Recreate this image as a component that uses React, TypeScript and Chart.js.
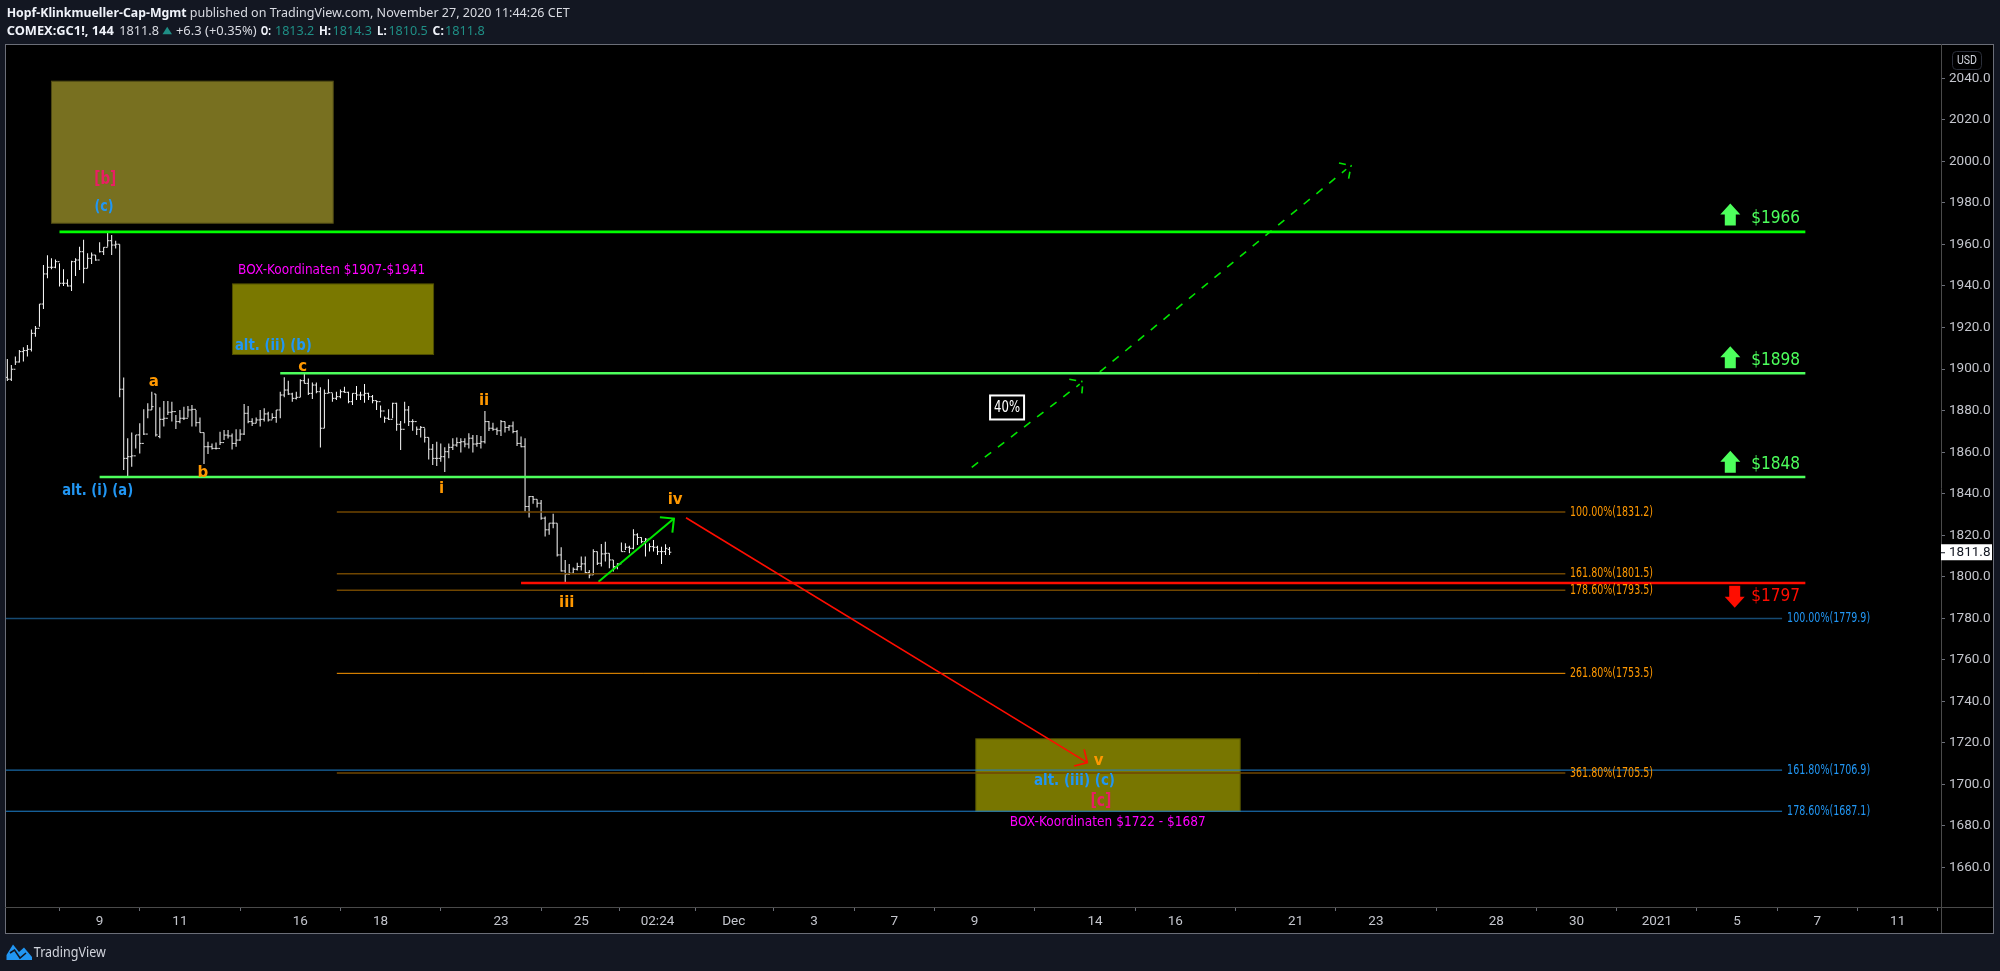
import React, { useEffect, useRef } from "react";
import { Chart, registerables } from "chart.js";

Chart.register(...registerables);

// ---------- data: one 144-minute bar per entry ----------
const barHigh = [
  1904.9,1902.0,1906.0,1909.2,1910.5,1911.6,1919.1,1920.7,1931.3,1950.1,
  1954.8,1953.3,1952.8,1950.9,1948.0,1943.2,1952.2,1953.3,1958.9,1962.2,
  1955.7,1956.1,1954.9,1961.0,1958.6,1966.2,1964.6,1961.8,1960.1,1895.9,
  1866.7,1869.4,1868.3,1873.9,1880.6,1883.5,1889.1,1888.0,1881.6,1884.6,
  1884.6,1884.3,1877.9,1880.3,1881.9,1882.2,1882.7,1880.3,1876.7,1869.4,
  1865.0,1864.2,1864.6,1869.8,1870.6,1870.6,1869.0,1871.0,1871.0,1883.2,
  1882.2,1876.3,1876.7,1880.3,1881.1,1879.5,1878.7,1880.3,1889.1,1896.0,
  1894.4,1888.6,1889.1,1895.1,1898.1,1895.5,1893.5,1893.5,1891.2,1890.2,
  1895.1,1888.3,1889.1,1890.2,1891.5,1889.1,1888.3,1891.9,1889.1,1892.8,
  1888.6,1887.5,1884.8,1882.4,1877.1,1880.6,1883.8,1883.8,1875.0,1884.3,
  1882.2,1875.8,1872.3,1872.6,1871.5,1867.1,1863.9,1865.0,1864.2,1862.3,
  1864.2,1866.7,1867.0,1866.7,1866.7,1869.1,1868.3,1868.3,1867.8,1879.8,
  1875.0,1874.2,1871.9,1875.5,1874.7,1873.1,1874.7,1870.7,1867.5,1866.7,
  1838.9,1838.9,1837.3,1837.0,1829.0,1825.8,1830.3,1825.8,1814.2,1808.1,
  1806.2,1804.4,1806.8,1809.7,1809.7,1803.3,1813.3,1812.1,1815.8,1816.8,
  1811.3,1808.1,1806.5,1816.5,1816.1,1814.9,1822.9,1821.0,1819.0,1818.6,
  1816.1,1817.7,1814.9,1814.5,1815.7,1814.3,
];
const barLow = [
  1894.3,1894.3,1902.0,1903.1,1903.6,1906.0,1908.4,1915.6,1920.4,1928.9,
  1943.7,1948.0,1948.5,1939.7,1940.0,1939.7,1937.6,1944.8,1947.7,1941.3,
  1948.5,1950.6,1952.2,1956.1,1954.9,1958.9,1954.9,1958.1,1886.4,1851.4,
  1848.2,1853.0,1861.8,1859.4,1868.3,1876.3,1880.3,1867.5,1866.7,1872.3,
  1877.9,1874.7,1871.1,1873.9,1875.5,1876.7,1872.3,1872.3,1869.4,1854.3,
  1859.1,1861.3,1861.3,1863.4,1865.8,1866.6,1861.3,1862.6,1865.5,1868.2,
  1873.9,1872.6,1873.9,1872.3,1874.7,1874.7,1875.8,1874.2,1876.3,1886.4,
  1887.5,1884.3,1885.4,1886.4,1893.1,1887.5,1885.6,1888.3,1862.2,1871.5,
  1888.3,1884.3,1885.1,1885.9,1888.6,1883.5,1882.7,1885.1,1885.1,1883.8,
  1885.1,1883.5,1880.3,1876.6,1874.2,1875.5,1876.3,1870.3,1861.0,1873.9,
  1872.6,1870.3,1868.3,1867.1,1864.6,1856.5,1853.8,1853.3,1855.4,1850.4,
  1857.0,1861.0,1862.6,1859.8,1862.3,1861.8,1859.8,1862.6,1861.8,1864.2,
  1870.2,1870.3,1868.3,1867.8,1869.4,1870.3,1869.1,1863.0,1862.3,1831.4,
  1828.5,1835.1,1833.3,1827.4,1819.4,1820.2,1823.4,1809.7,1802.5,1797.4,
  1800.9,1801.7,1803.0,1803.0,1801.7,1799.3,1800.9,1805.7,1804.9,1807.3,
  1804.1,1802.5,1803.6,1812.1,1812.9,1811.3,1813.3,1815.3,1816.1,1809.7,
  1812.1,1812.1,1810.5,1806.2,1810.5,1810.5,
];
const barOpen = [
  1896.0,1895.1,1899.9,1903.4,1908.4,1908.9,1909.5,1917.2,1919.6,1931.3,
  1945.8,1949.0,1949.0,1951.7,1941.3,1941.3,1940.0,1951.7,1952.5,1956.5,
  1948.5,1953.3,1954.9,1952.5,1956.5,1958.6,1961.8,1959.7,1960.1,1890.3,
  1857.0,1857.8,1858.2,1868.3,1864.2,1868.7,1880.3,1888.0,1867.5,1875.8,
  1876.3,1879.2,1879.5,1874.7,1876.3,1876.3,1880.3,1880.6,1874.2,1869.4,
  1862.6,1862.6,1861.8,1861.8,1864.6,1868.2,1867.8,1864.2,1865.8,1868.7,
  1878.7,1874.7,1873.9,1875.5,1875.8,1878.4,1875.5,1876.7,1880.3,1887.5,
  1889.9,1888.0,1885.9,1886.4,1894.4,1893.1,1888.3,1892.3,1889.1,1871.5,
  1888.3,1888.6,1885.9,1886.7,1889.1,1888.8,1884.3,1888.3,1887.5,1887.5,
  1888.3,1886.7,1884.8,1884.3,1879.8,1876.3,1875.8,1883.5,1873.4,1871.0,
  1880.3,1874.7,1874.7,1871.0,1871.9,1867.1,1861.4,1857.0,1857.0,1857.8,
  1860.2,1862.3,1863.4,1864.6,1865.0,1863.9,1866.7,1863.9,1864.2,1865.0,
  1874.7,1871.5,1871.0,1870.3,1874.7,1871.9,1872.6,1869.9,1864.2,1862.6,
  1833.8,1838.6,1837.3,1835.4,1828.2,1822.6,1825.8,1825.8,1810.5,1802.8,
  1801.2,1801.7,1803.6,1804.9,1806.2,1802.0,1800.9,1812.1,1806.5,1811.0,
  1811.3,1808.1,1804.9,1806.2,1812.1,1814.2,1813.7,1820.2,1818.9,1816.9,
  1818.1,1814.5,1814.2,1812.1,1812.1,1813.2,
];
const barClose = [
  1895.1,1899.9,1903.4,1908.4,1908.9,1909.5,1917.2,1919.6,1931.3,1945.8,
  1949.0,1949.0,1951.7,1941.3,1941.3,1940.0,1951.7,1952.5,1956.5,1948.5,
  1953.3,1954.9,1952.5,1956.5,1958.6,1961.8,1959.7,1960.1,1890.3,1857.0,
  1857.8,1858.2,1868.3,1864.2,1868.7,1880.3,1881.9,1868.3,1875.8,1876.3,
  1879.2,1879.5,1874.7,1876.3,1876.3,1880.3,1880.6,1874.2,1869.4,1862.6,
  1862.6,1861.8,1861.8,1864.6,1868.2,1867.8,1864.2,1865.8,1868.7,1878.7,
  1874.7,1873.9,1875.5,1875.8,1878.4,1875.5,1876.7,1880.3,1887.5,1889.9,
  1888.0,1885.9,1886.4,1894.4,1893.1,1888.3,1892.3,1889.1,1871.5,1888.3,
  1888.6,1885.9,1886.7,1889.1,1888.8,1884.3,1888.3,1887.5,1887.5,1888.3,
  1886.7,1884.8,1884.3,1879.8,1876.3,1875.8,1883.5,1873.4,1871.0,1880.3,
  1874.7,1874.7,1871.0,1871.9,1867.1,1861.4,1857.0,1857.0,1857.8,1860.2,
  1862.3,1863.4,1864.6,1865.0,1863.9,1866.7,1863.9,1864.2,1865.0,1874.7,
  1871.5,1871.0,1870.3,1874.7,1871.9,1872.6,1869.9,1864.2,1862.6,1833.8,
  1838.6,1837.3,1835.4,1828.2,1822.6,1825.8,1825.8,1810.5,1802.8,1801.2,
  1801.7,1803.6,1804.9,1806.2,1802.0,1800.9,1812.1,1806.5,1811.0,1811.3,
  1808.1,1804.9,1806.2,1812.1,1814.2,1813.7,1820.2,1818.9,1816.9,1818.1,
  1814.5,1814.2,1812.1,1812.1,1813.7,1811.8,
];

const timeTickBars = [23, 43, 73, 93, 123, 143, 162, 181, 201, 221, 241, 271, 291, 321, 341, 371, 391, 411, 431, 451, 471];
const timeTickLabels = ["9", "11", "16", "18", "23", "25", "02:24", "Dec", "3", "7", "9", "14", "16", "21", "23", "28", "30", "2021", "5", "7", "11"];
const priceTicks = [1660, 1680, 1700, 1720, 1740, 1760, 1780, 1800, 1820, 1840, 1860, 1880, 1900, 1920, 1940, 1960, 1980, 2000, 2020, 2040];
const lastPrice = 1811.8;

// levels: price, first bar, last bar
const levelPrices = [1966, 1898, 1848, 1797];
const levelStartBars = [13, 68, 23, 128];
const levelEndBar = 448;
const fibOrangePrices = [1831.2, 1801.5, 1793.5, 1753.5, 1705.5];
const fibOrangeLabels = ["100.00%(1831.2)", "161.80%(1801.5)", "178.60%(1793.5)", "261.80%(1753.5)", "361.80%(1705.5)"];
const fibBluePrices = [1779.9, 1706.9, 1687.1];
const fibBlueLabels = ["100.00%(1779.9)", "161.80%(1706.9)", "178.60%(1687.1)"];

// ---------- page layout and styles ----------
const AREA = { left: 6, right: 1941, top: 44, bottom: 907 };
const XMIN = -0.33;
const XMAX = 481.8;
const YMIN = 1641;
const YMAX = 2056.5;
const PAGE = "#131722";
const ORANGE = "#ff9800";
const BLUE = "#2196f3";
const CRIMSON = "#e91e63";
const MAGENTA = "#ff00ff";
const LIME = "#4dff5c";
const DEJA = '"DejaVu Sans"';
const BODY = '"Noto Sans"';
const AXISFONT = '"Liberation Sans Narrow", Roboto';

type Pt = { x: number; y: number };
const seg = (points: Pt[], color: string, width: number, dash?: number[]) => ({
  type: "line" as const,
  data: points,
  borderColor: color,
  borderWidth: width,
  borderDash: dash || [],
  pointRadius: 0,
  tension: 0,
  fill: false,
  borderCapStyle: "butt",
});

const levelColors = ["#00ff00", LIME, LIME, "#ff0d00"];
const levelWidths = [2.7, 2.4, 2.4, 2.7];
const orangeLineColors = ["#704600", "#704600", "#704600", ORANGE, "#704600"];
const blueLineColors = ["#164a72", "#1f82cf", "#1f82cf"];

const boxes = [
  { bars: [11, 81.2], prices: [2038.6, 1970.2], fill: "#787020", edge: "#4f4a14" },
  { bars: [56.1, 106.2], prices: [1941, 1907], fill: "#7a7800", edge: "#4f4e00" },
  { bars: [241.3, 307.2], prices: [1722, 1687], fill: "rgba(124,122,0,0.97)", edge: "#4f4e00" },
];

const boldBlue = `bold 16px ${DEJA}`;
const letter = `bold 15px ${DEJA}`;
const priceFont = `18px ${DEJA}`;
const waveFont = `bold 17px ${DEJA}`;
const notes = [
  { t: "[b]", bar: 24.4, p: 1991.0, c: CRIMSON, f: waveFont, w: 22 },
  { t: "(c)", bar: 24.1, p: 1978.0, c: BLUE, f: `bold 16px ${DEJA}`, w: 19 },
  { t: "BOX-Koordinaten $1907-$1941", bar: 80.8, p: 1947.4, c: MAGENTA, f: `14px ${DEJA}`, w: 187 },
  { t: "alt. (ii) (b)", bar: 66.3, p: 1911.1, c: BLUE, f: boldBlue, w: 77 },
  { t: "a", bar: 36.5, p: 1893.9, c: ORANGE, f: letter },
  { t: "b", bar: 48.7, p: 1850.0, c: ORANGE, f: letter },
  { t: "c", bar: 73.6, p: 1901.1, c: ORANGE, f: letter },
  { t: "alt. (i) (a)", bar: 22.5, p: 1841.4, c: BLUE, f: boldBlue, w: 71 },
  { t: "i", bar: 108.2, p: 1842.3, c: ORANGE, f: letter },
  { t: "ii", bar: 118.8, p: 1884.6, c: ORANGE, f: letter },
  { t: "iii", bar: 139.4, p: 1787.2, c: ORANGE, f: letter },
  { t: "iv", bar: 166.4, p: 1837.0, c: ORANGE, f: letter },
  { t: "v", bar: 271.9, p: 1711.4, c: ORANGE, f: letter },
  { t: "alt. (iii) (c)", bar: 265.9, p: 1701.7, c: BLUE, f: boldBlue, w: 81 },
  { t: "[c]", bar: 272.5, p: 1691.9, c: CRIMSON, f: waveFont, w: 21 },
  { t: "BOX-Koordinaten $1722 - $1687", bar: 274.2, p: 1681.8, c: MAGENTA, f: `14px ${DEJA}`, w: 196 },
  { t: "$1966", bar: 440.6, p: 1972.6, c: LIME, f: priceFont, w: 49 },
  { t: "$1898", bar: 440.6, p: 1904.4, c: LIME, f: priceFont, w: 49 },
  { t: "$1848", bar: 440.6, p: 1854.3, c: LIME, f: priceFont, w: 49 },
  { t: "$1797", bar: 440.6, p: 1790.4, c: "#ff0d00", f: priceFont, w: 49 },
];

const fibOrangeLabelBar = 399.7;
const fibBlueLabelBar = 453.8;
const upMarkers = [
  { bar: 429.3, p: 1974.4 },
  { bar: 429.3, p: 1905.7 },
  { bar: 429.3, p: 1855.4 },
];
const downMarkers = [{ bar: 430.4, p: 1790.4 }];
const tagBar = 249.1;
const tagPrice = 1881.5;

const overlay = {
  id: "overlay",
  beforeDraw(chart: any) {
    const { ctx } = chart;
    ctx.save();
    ctx.fillStyle = PAGE;
    ctx.fillRect(0, 0, 2000, 971);
    ctx.fillStyle = "#000000";
    ctx.fillRect(5, 44, 1988, 889);
    ctx.restore();
  },
  beforeDatasetsDraw(chart: any) {
    const { ctx, scales } = chart;
    const { x, y } = scales;
    ctx.save();
    for (const b of boxes) {
      const l = x.getPixelForValue(b.bars[0]);
      const r = x.getPixelForValue(b.bars[1]);
      const t = y.getPixelForValue(b.prices[0]);
      const bt = y.getPixelForValue(b.prices[1]);
      ctx.fillStyle = b.fill;
      ctx.fillRect(l, t, r - l, bt - t);
      ctx.strokeStyle = b.edge;
      ctx.lineWidth = 1;
      ctx.strokeRect(l, t, r - l, bt - t);
    }
    ctx.restore();
  },
  afterDatasetsDraw(chart: any) {
    const { ctx, scales } = chart;
    const { x, y } = scales;
    ctx.save();
    ctx.textAlign = "center";
    ctx.textBaseline = "middle";
    for (const n of notes as any[]) {
      ctx.font = n.f;
      ctx.fillStyle = n.c;
      const px = x.getPixelForValue(n.bar);
      const py = y.getPixelForValue(n.p);
      if (n.w) ctx.fillText(n.t, px, py, n.w);
      else ctx.fillText(n.t, px, py);
    }
    // fibonacci labels
    ctx.font = `14px ${DEJA}`;
    ctx.fillStyle = "#ff9800";
    fibOrangeLabels.forEach((t, i) => {
      ctx.fillText(t, x.getPixelForValue(fibOrangeLabelBar), y.getPixelForValue(fibOrangePrices[i]), 83);
    });
    ctx.fillStyle = "#2196f3";
    fibBlueLabels.forEach((t, i) => {
      ctx.fillText(t, x.getPixelForValue(fibBlueLabelBar), y.getPixelForValue(fibBluePrices[i]), 83);
    });
    // probability tag
    const tx = x.getPixelForValue(tagBar);
    const ty = y.getPixelForValue(tagPrice);
    ctx.fillStyle = "#000";
    ctx.fillRect(tx - 17, ty - 12, 34, 24);
    ctx.strokeStyle = "#ffffff";
    ctx.lineWidth = 2;
    ctx.strokeRect(tx - 17, ty - 12, 34, 24);
    ctx.fillStyle = "#ffffff";
    ctx.font = `16px ${DEJA}`;
    ctx.fillText("40%", tx, ty, 26);
    // level arrows
    const glyph = (cx: number, cy: number, dir: number, color: string) => {
      ctx.fillStyle = color;
      ctx.beginPath();
      ctx.moveTo(cx, cy - dir * 11);
      ctx.lineTo(cx + 10, cy);
      ctx.lineTo(cx + 5.5, cy);
      ctx.lineTo(cx + 5.5, cy + dir * 11);
      ctx.lineTo(cx - 5.5, cy + dir * 11);
      ctx.lineTo(cx - 5.5, cy);
      ctx.lineTo(cx - 10, cy);
      ctx.closePath();
      ctx.fill();
    };
    for (const m of upMarkers) glyph(x.getPixelForValue(m.bar), y.getPixelForValue(m.p), 1, LIME);
    for (const m of downMarkers) glyph(x.getPixelForValue(m.bar), y.getPixelForValue(m.p), -1, "#ff0d00");
    ctx.restore();
  },
  afterDraw(chart: any) {
    const { ctx, scales } = chart;
    const { y } = scales;
    ctx.save();
    // frame and axis rules
    ctx.strokeStyle = "#6b6e78";
    ctx.lineWidth = 1;
    ctx.strokeRect(5.5, 44.5, 1988, 889);
    ctx.strokeStyle = "#4a4a4a";
    ctx.beginPath();
    ctx.moveTo(1941.5, 44);
    ctx.lineTo(1941.5, 933);
    ctx.moveTo(5, 907.5);
    ctx.lineTo(1993, 907.5);
    ctx.stroke();
    // last price tag
    const py = y.getPixelForValue(lastPrice);
    ctx.fillStyle = "#ffffff";
    ctx.fillRect(1941, py - 8, 51, 16);
    ctx.fillStyle = "#131722";
    ctx.font = `13.5px ${AXISFONT}`;
    ctx.textAlign = "left";
    ctx.textBaseline = "middle";
    ctx.fillText(lastPrice.toFixed(1), 1949, py + 0.5);
    ctx.fillRect(1941, py, 4, 1);
    // currency badge
    ctx.strokeStyle = "#2a2e39";
    ctx.beginPath();
    ctx.roundRect(1952.5, 51.5, 29, 18, 4);
    ctx.stroke();
    ctx.fillStyle = "#d1d4dc";
    ctx.textAlign = "center";
    ctx.fillText("USD", 1967, 60.5, 20);
    // header
    ctx.textAlign = "left";
    const put = (t: string, l: number, r: number, yy: number, color: string, bold: boolean) => {
      ctx.font = `${bold ? "bold " : ""}13px ${BODY}`;
      ctx.fillStyle = color;
      ctx.fillText(t, l, yy, r - l);
    };
    const TXT = "#d9dbe2";
    const TEAL = "#1f8f86";
    put("Hopf-Klinkmueller-Cap-Mgmt", 6.7, 186.6, 13.5, "#f0f3fa", true);
    put("published on TradingView.com, November 27, 2020 11:44:26 CET", 189.7, 569.6, 13.5, TXT, false);
    put("COMEX:GC1!, 144", 6.7, 113.8, 31, "#f0f3fa", true);
    put("1811.8", 119.2, 159, 31, TXT, false);
    ctx.fillStyle = TEAL;
    ctx.beginPath();
    ctx.moveTo(167.2, 26.7);
    ctx.lineTo(172, 34.3);
    ctx.lineTo(162.5, 34.3);
    ctx.closePath();
    ctx.fill();
    put("+6.3 (+0.35%)", 175.9, 256.7, 31, TXT, false);
    put("O:", 260.7, 271, 31, "#f0f3fa", true);
    put("1813.2", 275, 314.3, 31, TEAL, false);
    put("H:", 319, 331, 31, "#f0f3fa", true);
    put("1814.3", 332.6, 371.9, 31, TEAL, false);
    put("L:", 377, 386.6, 31, "#f0f3fa", true);
    put("1810.5", 388.4, 427.7, 31, TEAL, false);
    put("C:", 432.6, 443.8, 31, "#f0f3fa", true);
    put("1811.8", 445, 484.8, 31, TEAL, false);
    // brand mark
    ctx.fillStyle = "#2196f3";
    ctx.beginPath();
    ctx.moveTo(6.5, 960);
    ctx.lineTo(6.5, 955);
    ctx.lineTo(13, 944.5);
    ctx.lineTo(19, 952);
    ctx.lineTo(24, 947.5);
    ctx.lineTo(32, 957);
    ctx.lineTo(32, 960);
    ctx.closePath();
    ctx.fill();
    ctx.strokeStyle = PAGE;
    ctx.lineWidth = 1.6;
    ctx.beginPath();
    ctx.moveTo(10, 953);
    ctx.lineTo(14.5, 950);
    ctx.lineTo(20, 958);
    ctx.lineTo(26, 953);
    ctx.stroke();
    ctx.font = `14px ${BODY}`;
    ctx.fillStyle = "#d1d4dc";
    ctx.fillText("TradingView", 33.8, 952.7, 72);
    ctx.restore();
  },
};

export default function App() {
  const ref = useRef<HTMLCanvasElement | null>(null);

  useEffect(() => {
    if (!ref.current) return;
    const indices = barHigh.map((_, i) => i);
    const datasets: any[] = [
      // levels
      ...levelPrices.map((p, i) =>
        seg([{ x: levelStartBars[i], y: p }, { x: levelEndBar, y: p }], levelColors[i], levelWidths[i])
      ),
      // drawn arrows
      seg([{ x: 169.1, y: 1828.4 }, { x: 269.1, y: 1710.5 }], "#ff0d00", 1.6),
      seg([{ x: 268.3, y: 1716.9 }, { x: 269.1, y: 1710.5 }, { x: 265.8, y: 1708.9 }], "#ff0d00", 1.6),
      seg([{ x: 147.3, y: 1797.6 }, { x: 166.1, y: 1828 }], "#00e600", 2),
      seg([{ x: 162.6, y: 1828.6 }, { x: 166.1, y: 1828 }, { x: 165.7, y: 1821.2 }], "#00e600", 2),
      seg([{ x: 240.3, y: 1852.7 }, { x: 267.2, y: 1892.7 }], "#00e600", 1.6, [8, 8.5]),
      seg([{ x: 264.6, y: 1895.1 }, { x: 268, y: 1893.9 }, { x: 267.7, y: 1887.5 }], "#00e600", 1.6, [7, 5, 1.5, 5, 7]),
      seg([{ x: 272.2, y: 1898.6 }, { x: 333.6, y: 1996.2 }], "#00e600", 1.6, [8, 8.5]),
      seg([{ x: 331.8, y: 1999.2 }, { x: 334.8, y: 1997.9 }, { x: 334.1, y: 1990.6 }], "#00e600", 1.6, [7, 5, 1.5, 5, 7]),
      // fibonacci lines
      ...fibOrangePrices.map((p, i) =>
        seg([{ x: 82.1, y: p }, { x: 388.2, y: p }], orangeLineColors[i], i === 3 ? 1 : 1.5)
      ),
      ...fibBluePrices.map((p, i) =>
        seg([{ x: XMIN, y: p }, { x: 442.2, y: p }], blueLineColors[i], i === 0 ? 1.5 : 1)
      ),
      // OHLC marks
      {
        type: "line",
        showLine: false,
        data: indices.map((i) => ({ x: i, y: barOpen[i] })),
        pointStyle: "dash",
        pointRadius: 1.8,
        pointRotation: 180,
        pointBorderWidth: 1,
        pointBorderColor: "#e4e4e4",
      },
      {
        type: "line",
        showLine: false,
        data: indices.map((i) => ({ x: i, y: barClose[i] })),
        pointStyle: "dash",
        pointRadius: 1.8,
        pointBorderWidth: 1,
        pointBorderColor: "#e4e4e4",
      },
      {
        type: "bar",
        data: indices.map((i) => ({ x: i, y: [barLow[i], barHigh[i]] })),
        backgroundColor: "#ffffff",
        barThickness: 1,
        borderWidth: 0,
        inflateAmount: 0,
      },
    ];

    const chart = new Chart(ref.current, {
      type: "bar",
      data: { datasets },
      plugins: [overlay],
      options: {
        animation: false,
        responsive: false,
        devicePixelRatio: 1,
        events: [],
        layout: { padding: { left: AREA.left, right: 7, top: AREA.top, bottom: 38 } },
        plugins: { legend: { display: false }, tooltip: { enabled: false }, title: { display: false } },
        scales: {
          x: {
            type: "linear",
            min: XMIN,
            max: XMAX,
            offset: false,
            afterBuildTicks: (s: any) => {
              s.ticks = timeTickBars.map((v) => ({ value: v }));
            },
            afterFit: (s: any) => {
              s.height = 26;
            },
            grid: { display: true, drawOnChartArea: false, drawTicks: true, tickLength: 4, tickColor: "#6b6e78" },
            border: { display: false },
            ticks: {
              autoSkip: false,
              maxRotation: 0,
              minRotation: 0,
              padding: 3,
              color: "#c4c6cd",
              font: { family: AXISFONT, size: 13.5 },
              callback: (v: any) => timeTickLabels[timeTickBars.indexOf(Number(v))] ?? "",
            },
          },
          y: {
            type: "linear",
            position: "right",
            min: YMIN,
            max: YMAX,
            afterBuildTicks: (s: any) => {
              s.ticks = priceTicks.map((v) => ({ value: v }));
            },
            afterFit: (s: any) => {
              s.width = 52;
            },
            grid: { display: true, drawOnChartArea: false, drawTicks: true, tickLength: 4, tickColor: "#6b6e78" },
            border: { display: false },
            ticks: {
              padding: 4,
              color: "#c4c6cd",
              font: { family: AXISFONT, size: 13.5 },
              callback: (v: any) => Number(v).toFixed(1),
            },
          },
        },
      } as any,
    } as any);
    return () => chart.destroy();
  }, []);

  return (
    <div style={{ position: "fixed", left: 0, top: 0, width: 2000, height: 971, background: PAGE, overflow: "hidden" }}>
      <canvas ref={ref} width={2000} height={971} style={{ display: "block", width: 2000, height: 971 }} />
    </div>
  );
}
